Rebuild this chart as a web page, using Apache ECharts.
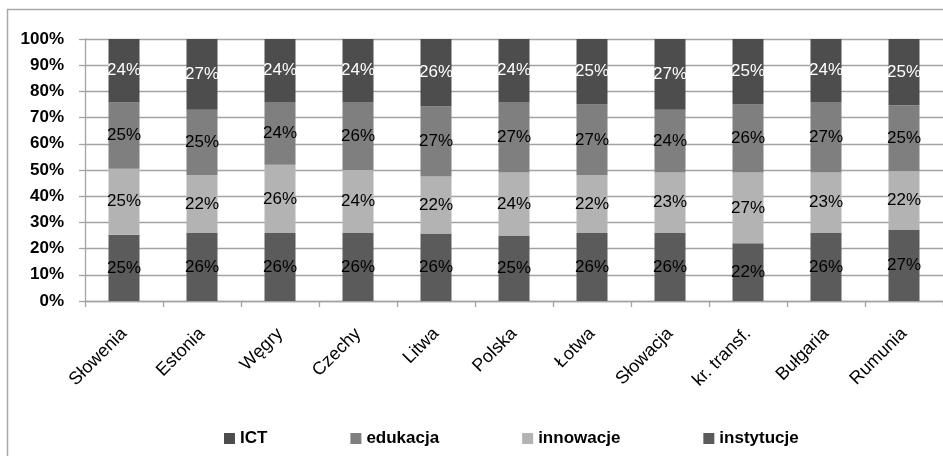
<!DOCTYPE html>
<html>
<head>
<meta charset="utf-8">
<script src="https://cdn.jsdelivr.net/npm/echarts@6/dist/echarts.min.js"></script>
<style>
  html, body { margin: 0; padding: 0; background: #ffffff; }
  #chart { width: 943px; height: 456px; }
</style>
</head>
<body>
<div id="chart"></div>
<script>
// Country categories
const categories = ['Słowenia', 'Estonia', 'Węgry', 'Czechy', 'Litwa', 'Polska', 'Łotwa', 'Słowacja', 'kr. transf.', 'Bułgaria', 'Rumunia'];

// Percentage shares per pillar (stacked bottom → top)
const instytucje = [25, 26, 26, 26, 26, 25, 26, 26, 22, 26, 27];
const innowacje  = [25, 22, 26, 24, 22, 24, 22, 23, 27, 23, 22];
const edukacja   = [25, 25, 24, 26, 27, 27, 27, 24, 26, 27, 25];
const ICT        = [24, 27, 24, 24, 26, 24, 25, 27, 25, 24, 25];

// Y axis ticks
const yTicks = { min: 0, max: 100, interval: 10 };

const legendOrder = ['ICT', 'edukacja', 'innowacje', 'instytucje'];

const stackDefs = [
  { name: 'instytucje', values: instytucje, color: '#5b5b5b', text: '#000000' },
  { name: 'innowacje',  values: innowacje,  color: '#b3b3b3', text: '#000000' },
  { name: 'edukacja',   values: edukacja,   color: '#7f7f7f', text: '#000000' },
  { name: 'ICT',        values: ICT,        color: '#4d4d4d', text: '#ffffff' }
];

// 100% stacked: each column is scaled to its own total
const totals = categories.map((_, i) => stackDefs.reduce((s, d) => s + d.values[i], 0));

const chart = echarts.init(document.getElementById('chart'), null, { renderer: 'canvas' });

const gridColor = '#a3a3a3';

chart.setOption({
  animation: false,
  backgroundColor: '#ffffff',
  textStyle: { fontFamily: '"Liberation Sans", Arial, sans-serif' },
  graphic: [{
    type: 'rect',
    shape: { x: 7.5, y: 9.5, width: 1200, height: 1200 },
    style: { fill: 'none', stroke: '#a8a8a8', lineWidth: 1.5 },
    silent: true,
    z: -10
  }],
  grid: { left: 85, top: 39, width: 866, height: 262, containLabel: false },
  legend: {
    data: legendOrder,
    left: 219,
    top: 425,
    itemWidth: 11,
    itemHeight: 11,
    itemGap: 83,
    icon: 'rect',
    textStyle: { fontSize: 17, fontWeight: 'bold', color: '#000000', fontFamily: '"Liberation Sans", Arial, sans-serif' }
  },
  xAxis: {
    type: 'category',
    data: categories,
    axisLine: { show: true, lineStyle: { color: gridColor, width: 1.3 } },
    axisTick: { show: true, length: 6, lineStyle: { color: gridColor, width: 1.3 } },
    axisLabel: {
      interval: 0,
      rotate: 45,
      margin: 30,
      fontSize: 18,
      color: '#000000',
      fontFamily: '"Liberation Sans", Arial, sans-serif'
    }
  },
  yAxis: {
    type: 'value',
    min: yTicks.min,
    max: yTicks.max,
    interval: yTicks.interval,
    axisLine: { show: true, lineStyle: { color: gridColor, width: 1.3 } },
    axisTick: { show: true, length: 6, lineStyle: { color: gridColor, width: 1.3 } },
    splitLine: { show: true, lineStyle: { color: gridColor, width: 1.3 } },
    axisLabel: {
      formatter: '{value}%',
      margin: 21,
      fontSize: 17,
      fontWeight: 'bold',
      color: '#000000',
      fontFamily: '"Liberation Sans", Arial, sans-serif'
    }
  },
  series: stackDefs.map(d => ({
    name: d.name,
    type: 'bar',
    stack: 'total',
    barWidth: 31,
    itemStyle: { color: d.color },
    label: {
      show: true,
      position: 'inside',
      fontSize: 17,
      color: d.text,
      fontFamily: '"Liberation Sans Narrow", "Liberation Sans", Arial, sans-serif',
      formatter: p => d.values[p.dataIndex] + '%'
    },
    data: d.values.map((v, i) => v * 100 / totals[i])
  }))
});
</script>
</body>
</html>
